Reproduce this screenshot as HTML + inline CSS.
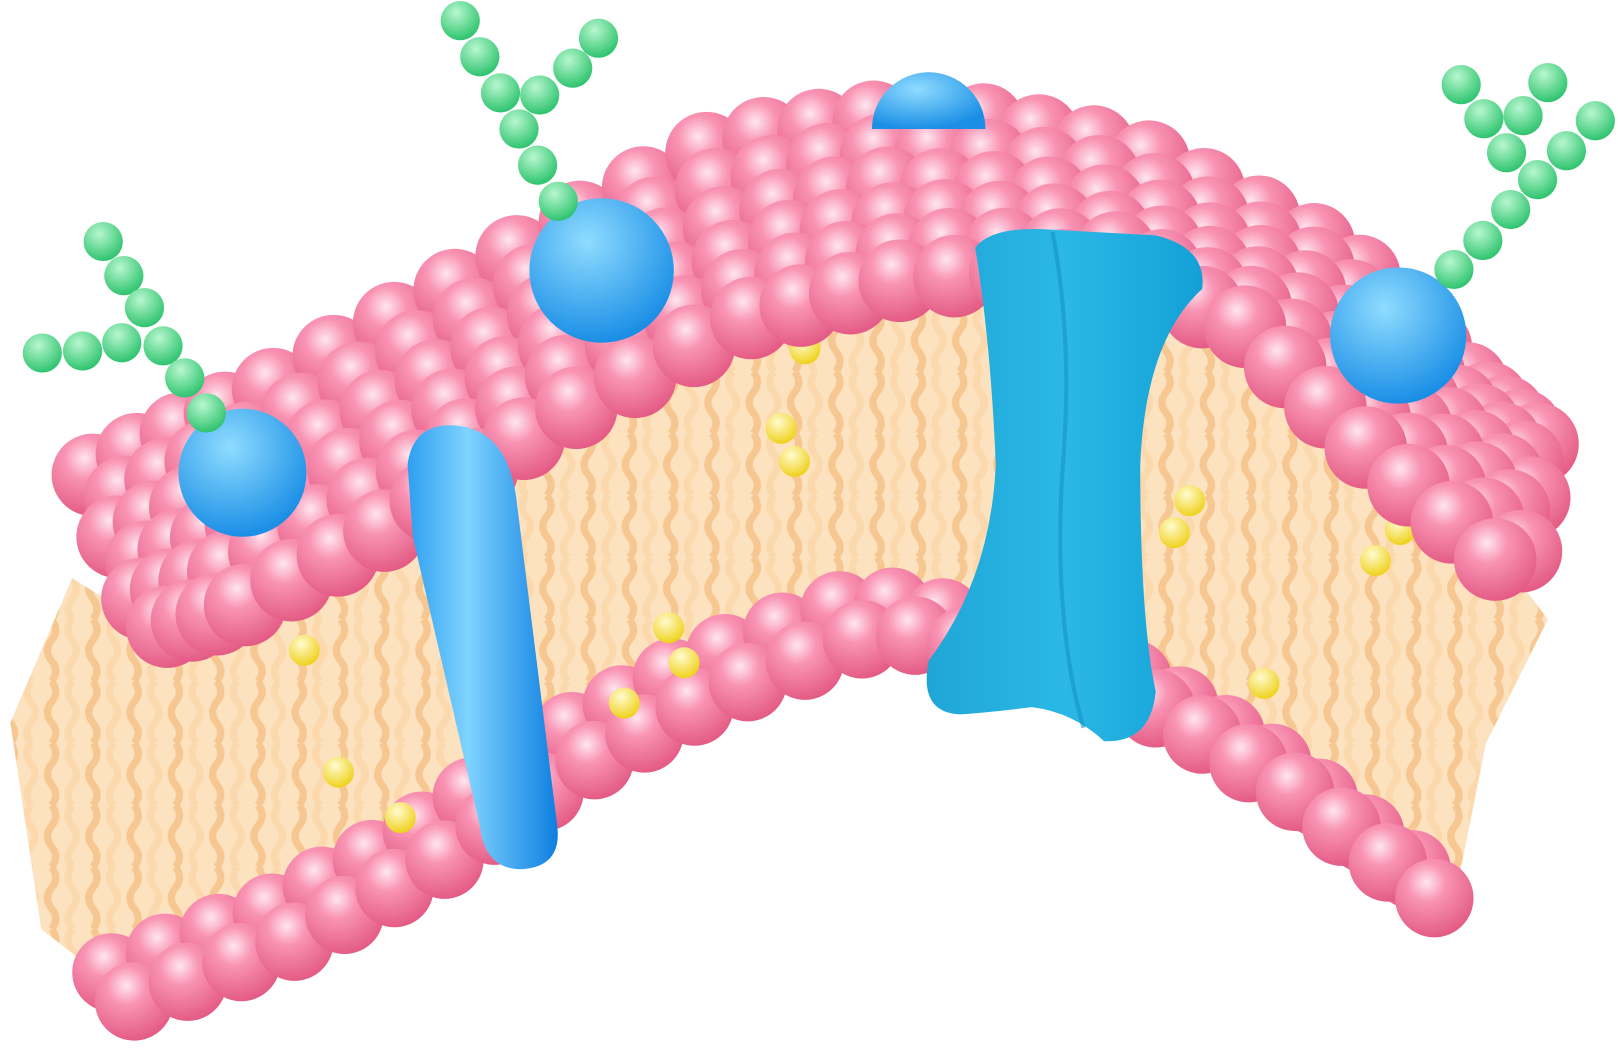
<!DOCTYPE html>
<html><head><meta charset="utf-8"><style>html,body{margin:0;padding:0;background:#fff}svg{display:block}</style></head>
<body>
<svg id="s" width="1618" height="1054" viewBox="0 0 1568 1021" preserveAspectRatio="none" xmlns="http://www.w3.org/2000/svg">
<defs>
<radialGradient id="pk" cx="0.4" cy="0.3" r="0.7"><stop offset="0" stop-color="#ffe6ef"/><stop offset="0.35" stop-color="#f994b4"/><stop offset="1" stop-color="#e45c86"/></radialGradient>
<radialGradient id="bl" cx="0.4" cy="0.3" r="0.7"><stop offset="0" stop-color="#8fdcff"/><stop offset="1" stop-color="#1b8fe6"/></radialGradient>
<radialGradient id="gr" cx="0.4" cy="0.3" r="0.7"><stop offset="0" stop-color="#b8f7cf"/><stop offset="1" stop-color="#2fc46f"/></radialGradient>
<radialGradient id="yl" cx="0.4" cy="0.3" r="0.7"><stop offset="0" stop-color="#fffbd0"/><stop offset="1" stop-color="#efd21c"/></radialGradient>
<linearGradient id="rod" x1="0" y1="0" x2="1" y2="0"><stop offset="0" stop-color="#2e9ff0"/><stop offset="0.4" stop-color="#7fd3ff"/><stop offset="1" stop-color="#0e7fe0"/></linearGradient>
<linearGradient id="ch" x1="0" y1="0" x2="1" y2="0"><stop offset="0" stop-color="#1fa6d6"/><stop offset="0.5" stop-color="#2bb8e6"/><stop offset="1" stop-color="#13a0d6"/></linearGradient>
<pattern id="tails" width="40" height="60" patternUnits="userSpaceOnUse">
<rect width="40" height="60" fill="#fde2c0"/>
<path d="M10 0 q8 10 0 20 q-8 10 0 20 q8 10 0 20" stroke="#f7c791" stroke-width="7" fill="none"/>
<path d="M30 0 q-8 10 0 20 q8 10 0 20 q-8 10 0 20" stroke="#fcd9ad" stroke-width="7" fill="none"/>
</pattern>
</defs>
<g id="g"></g>
</svg>
<script>
const NS="http://www.w3.org/2000/svg";
const g=document.getElementById('g');
function el(t,a,name){const e=document.createElementNS(NS,t);for(const k in a)e.setAttribute(k,a[k]);


g.appendChild(e);return e;}
function lerpPath(pts,u){const n=pts.length-1;const f=u*n;const i=Math.min(n-1,Math.floor(f));const t=f-i;return [pts[i][0]+(pts[i+1][0]-pts[i][0])*t,pts[i][1]+(pts[i+1][1]-pts[i][1])*t];}
const back=[[90,460],[250,385],[470,265],[700,140],[900,110],[1100,150],[1300,250],[1430,380],[1490,430]];
const front=[[150,610],[230,590],[380,510],[530,410],[720,310],[880,270],[1060,260],[1200,310],[1330,440],[1470,560]];
const bottom=[[130,970],[280,915],[420,840],[560,745],[700,670],[860,610],[1000,640],[1130,690],[1260,770],[1390,870]];
let d="M"+front.map(p=>p.join(",")).join(" L")+" L1500,600 L1440,720 L1410,870 "+bottom.slice().reverse().map(p=>"L"+p.join(",")).join(" ")+" L40,900 L10,700 L70,560 Z";
el('path',{d:d,fill:"url(#tails)"},'lipid-tails');
for(let k=1;k>=0;k--)for(let i=0;i<=26;i++){const p=lerpPath(bottom,i/26);el('circle',{cx:p[0]-k*22,cy:p[1]-k*28,r:38,fill:"url(#pk)"},'bottom-phospholipid-head');}
[[295,630],[328,748],[388,792],[648,608],[663,642],[605,681],[780,338],[757,415],[770,447],[1153,485],[1138,516],[1357,513],[1333,543],[1225,662]].forEach(p=>el('circle',{cx:p[0],cy:p[1],r:15,fill:"url(#yl)"},'cholesterol'));
const NV=6,NU=30;
for(let j=0;j<NV;j++)for(let i=0;i<=NU;i++){const u=(i+(j%2)*0.5)/NU;if(u>1)continue;const a=lerpPath(back,u),b=lerpPath(front,u);const v=j/(NV-1);
el('circle',{cx:a[0]+(b[0]-a[0])*v,cy:a[1]+(b[1]-a[1])*v,r:40,fill:"url(#pk)"},'top-phospholipid-head');}
[[235,458,62],[583,262,70],[1355,325,66]].forEach(c=>el('circle',{cx:c[0],cy:c[1],r:c[2],fill:"url(#bl)"},'peripheral-protein'));
el('path',{d:"M845,125 A55,55 0 0 1 955,125 Z",fill:"url(#bl)"},'peripheral-protein-top');
el('path',{d:"M395,450 Q400,410 440,412 Q490,415 500,480 L540,800 Q545,840 505,842 Q470,842 465,800 L400,520 Z",fill:"url(#rod)"},'integral-protein-rod');
el('path',{d:"M945,240 Q960,220 1010,222 L1120,228 Q1170,240 1165,280 Q1110,330 1105,450 Q1105,600 1120,670 Q1115,720 1070,718 Q1040,690 1000,685 Q960,690 930,692 Q890,690 900,640 Q960,560 965,450 Q960,330 945,240 Z",fill:"url(#ch)"},'channel-protein');
el('path',{d:"M1020,225 Q1040,330 1030,450 Q1020,600 1050,705",stroke:"#1592c4",'stroke-width':4,fill:"none",opacity:0.6},'channel-seam');
[[[100,234],[120,267],[140,298],[158,335],[179,366],[200,400],[41,342],[80,340],[118,332]],
 [[446,20],[465,55],[485,90],[503,125],[521,160],[541,195],[580,37],[555,66],[523,92]],
 [[1416,82],[1438,115],[1460,148],[1490,174],[1464,203],[1437,233],[1409,261],[1500,80],[1476,112],[1546,117],[1518,146]]]
.forEach(ch=>ch.forEach(p=>el('circle',{cx:p[0],cy:p[1],r:19,fill:"url(#gr)"},'glycan-bead')));
</script>
</body></html>
